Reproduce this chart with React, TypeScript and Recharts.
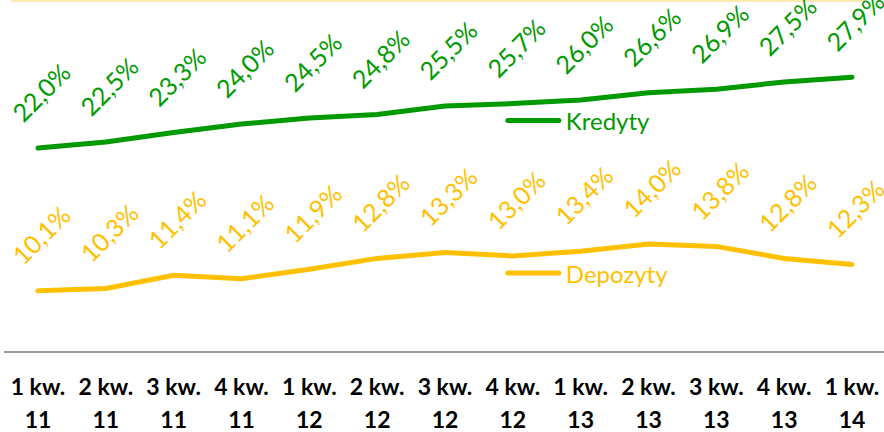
import { LabelList, Line, LineChart, XAxis, YAxis } from "recharts";

const quarters = ["1 kw.", "2 kw.", "3 kw.", "4 kw.", "1 kw.", "2 kw.", "3 kw.", "4 kw.", "1 kw.", "2 kw.", "3 kw.", "4 kw.", "1 kw."];
const years = ["11", "11", "11", "11", "12", "12", "12", "12", "13", "13", "13", "13", "14"];
const kredyty = [22.0, 22.5, 23.3, 24.0, 24.5, 24.8, 25.5, 25.7, 26.0, 26.6, 26.9, 27.5, 27.9];
const depozyty = [10.1, 10.3, 11.4, 11.1, 11.9, 12.8, 13.3, 13.0, 13.4, 14.0, 13.8, 12.8, 12.3];

const GREEN = "#009900";
const YELLOW = "#FFC000";
const FONT = "Lato, 'Open Sans', sans-serif";
const LEGEND_INDEX = 7;

const data = quarters.map((q, i) => ({
  name: `${q}|${years[i]}`,
  kredyty: kredyty[i],
  depozyty: depozyty[i],
}));

const fmt = (v: number) => v.toFixed(1).replace(".", ",") + "%";

function rotatedLabel(color: string) {
  return (props: any) => {
    const { x, y, value } = props;
    const cx = x + 3;
    const cy = y - 56;
    return (
      <text
        x={cx}
        y={cy}
        fill={color}
        fontSize={25}
        fontFamily={FONT}
        textAnchor="middle"
        dominantBaseline="central"
        transform={`rotate(-45, ${cx}, ${cy})`}
      >
        {fmt(Number(value))}
      </text>
    );
  };
}

function seriesName(color: string, label: string) {
  return (props: any) => {
    const { x, y, index } = props;
    if (index !== LEGEND_INDEX) return null;
    const ly = y + 17;
    return (
      <g>
        <line x1={x - 5} y1={ly} x2={x + 46} y2={ly} stroke={color} strokeWidth={5} strokeLinecap="round" />
        <text x={x + 53} y={ly} fill={color} fontSize={24} fontFamily={FONT} dominantBaseline="central">
          {label}
        </text>
      </g>
    );
  };
}

function Tick(props: any) {
  const { x, y, payload } = props;
  const [q, yr] = String(payload.value).split("|");
  return (
    <g>
      <text x={x} y={y + 35} textAnchor="middle" fontSize={23} fontWeight={700} fontFamily={FONT} fill="#000">
        {q}
      </text>
      <text x={x} y={y + 68} textAnchor="middle" fontSize={23} fontWeight={700} fontFamily={FONT} fill="#000">
        {yr}
      </text>
    </g>
  );
}

export default function App() {
  return (
    <div style={{ position: "absolute", left: 0, top: 0, width: 884, height: 432, overflow: "hidden", background: "#fff" }}>
      <div style={{ position: "absolute", left: 11, top: 0, width: 854, height: 0, borderTop: "2px solid #FCE9B2" }} />
      <LineChart width={888} height={432} data={data} margin={{ top: 4, right: 2, bottom: 0, left: 4 }}>
        <XAxis
          dataKey="name"
          interval={0}
          height={80}
          padding={{ left: 34, right: 34 }}
          tick={<Tick />}
          tickLine={false}
          axisLine={{ stroke: "#999999", strokeWidth: 2 }}
        />
        <YAxis hide domain={[5, 34]} />
        <Line
          type="linear"
          dataKey="kredyty"
          stroke={GREEN}
          strokeWidth={5}
          strokeLinecap="round"
          dot={false}
          isAnimationActive={false}
        >
          <LabelList dataKey="kredyty" content={rotatedLabel(GREEN)} />
          <LabelList dataKey="kredyty" content={seriesName(GREEN, "Kredyty")} />
        </Line>
        <Line
          type="linear"
          dataKey="depozyty"
          stroke={YELLOW}
          strokeWidth={5}
          strokeLinecap="round"
          dot={false}
          isAnimationActive={false}
        >
          <LabelList dataKey="depozyty" content={rotatedLabel(YELLOW)} />
          <LabelList dataKey="depozyty" content={seriesName(YELLOW, "Depozyty")} />
        </Line>
      </LineChart>
    </div>
  );
}
